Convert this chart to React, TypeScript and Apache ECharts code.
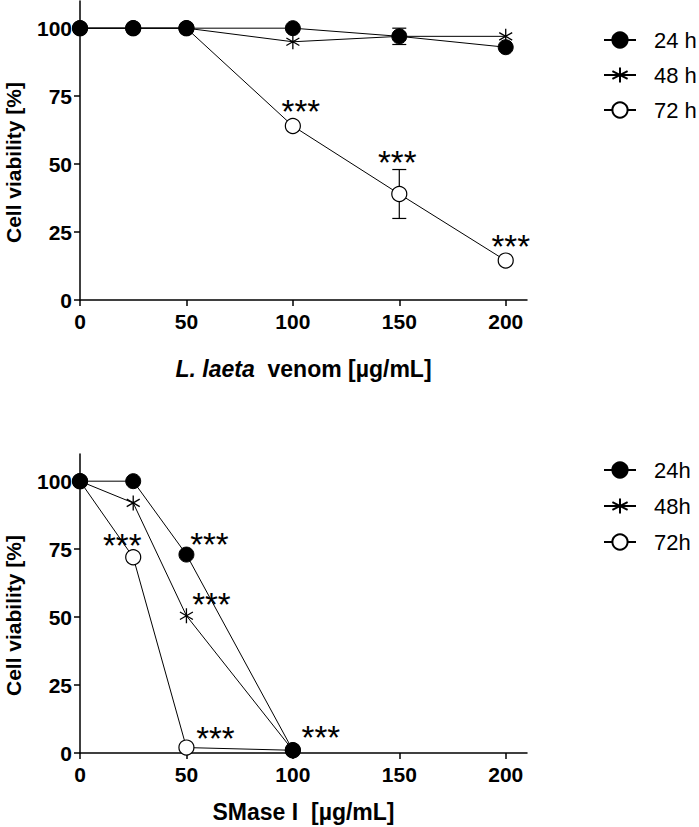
import React, { useEffect, useRef } from 'react';
import * as echarts from 'echarts';

// ---- Data ----
const topDoses = [0, 25, 50, 100, 150, 200];
const top24 = [100, 100, 100, 100, 97, 93];
const top48 = [100, 100, 100, 95, 97, 97];
const top72 = [100, 100, 100, 64, 39, 14.5];
const topErr24 = [0, 0, 0, 0, 3, 0];
const topErr72 = [0, 0, 0, 0, 9, 0];
const topSig = [[100, 64], [150, 39], [200, 14.5]];

const botDoses = [0, 25, 50, 100];
const bot24 = [100, 100, 73, 1];
const bot48 = [100, 92, 50.5, 1];
const bot72 = [100, 72, 2, 1];
const botSig = [[50, 73], [50, 50.5], [25, 72], [50, 2], [100, 1]];

const yTicks = [0, 25, 50, 75, 100];
const xTicks = [0, 50, 100, 150, 200];
const topNames = ['24 h', '48 h', '72 h'];
const botNames = ['24h', '48h', '72h'];

const FONT = '"Liberation Sans", Arial, Helvetica, sans-serif';
const STAR = 'path://M0,-1L0,1M-0.866,-0.5L0.866,0.5M-0.866,0.5L0.866,-0.5';

const markerFor = (k: number) => {
  if (k === 0) return { symbol: 'circle', symbolSize: 15, itemStyle: { color: '#000', borderColor: '#000', borderWidth: 1 } };
  if (k === 1) return { symbol: STAR, symbolSize: 15, symbolKeepAspect: true, itemStyle: { color: 'none', borderColor: '#000', borderWidth: 1.3 } };
  return { symbol: 'circle', symbolSize: 15, itemStyle: { color: '#fff', borderColor: '#000', borderWidth: 1.2 } };
};

function lineSeries(name: string, k: number, gi: number, xs: number[], ys: number[], z: number) {
  return {
    type: 'line', name, xAxisIndex: gi, yAxisIndex: gi, z,
    data: xs.map((x, i) => [x, ys[i]]),
    lineStyle: { color: '#000', width: 1 },
    showAllSymbol: true,
    ...markerFor(k),
  };
}

function errSeries(gi: number, xs: number[], ys: number[], es: number[]) {
  const data = xs.map((x, i) => [x, ys[i] - es[i], ys[i] + es[i]]).filter((_, i) => es[i] > 0);
  return {
    type: 'custom', xAxisIndex: gi, yAxisIndex: gi, z: 1, silent: true,
    data,
    renderItem: (_p: any, api: any) => {
      const x = api.value(0);
      const lo = api.coord([x, api.value(1)]);
      const hi = api.coord([x, api.value(2)]);
      const w = 7;
      const st = { stroke: '#000', lineWidth: 1.2 };
      return {
        type: 'group', children: [
          { type: 'line', shape: { x1: lo[0], y1: lo[1], x2: hi[0], y2: hi[1] }, style: st },
          { type: 'line', shape: { x1: lo[0] - w, y1: lo[1], x2: lo[0] + w, y2: lo[1] }, style: st },
          { type: 'line', shape: { x1: hi[0] - w, y1: hi[1], x2: hi[0] + w, y2: hi[1] }, style: st },
        ],
      };
    },
  };
}

function sigSeries(gi: number, pts: number[][], offsets: number[][]) {
  return {
    type: 'custom', xAxisIndex: gi, yAxisIndex: gi, z: 6, silent: true,
    data: pts,
    renderItem: (p: any, api: any) => {
      const c = api.coord([api.value(0), api.value(1)]);
      const o = offsets[p.dataIndex];
      return {
        type: 'text', x: c[0] + o[0], y: c[1] + o[1],
        style: { text: '***', fill: '#000', font: `33px ${FONT}`, align: 'center', verticalAlign: 'middle' },
      };
    },
  };
}

const axisCommon = { color: '#000', width: 1.5 };

function xAxis(gi: number, name: any, gap: number, rich?: any) {
  return {
    gridIndex: gi, type: 'value', min: 0, max: 210,
    axisLine: { show: true, onZero: false, lineStyle: axisCommon },
    axisTick: { show: true, length: 6, lineStyle: axisCommon, customValues: xTicks },
    axisLabel: { customValues: xTicks, fontSize: 21, fontWeight: 'bold', color: '#000', margin: 11, fontFamily: FONT },
    splitLine: { show: false },
    name, nameLocation: 'middle', nameGap: gap,
    nameTextStyle: { fontSize: 23, fontWeight: 'bold', color: '#000', fontFamily: FONT, rich },
  };
}

function yAxis(gi: number) {
  return {
    gridIndex: gi, type: 'value', min: 0, max: 110,
    axisLine: { show: true, onZero: false, lineStyle: axisCommon },
    axisTick: { show: true, length: 6, lineStyle: axisCommon, customValues: yTicks },
    axisLabel: { customValues: yTicks, fontSize: 21, fontWeight: 'bold', color: '#000', margin: 8, fontFamily: FONT },
    splitLine: { show: false },
    name: 'Cell viability [%]', nameLocation: 'middle', nameGap: 56,
    nameTextStyle: { fontSize: 21, fontWeight: 'bold', color: '#000', fontFamily: FONT, padding: [0, 24, 0, 0] },
  };
}

function legend(names: string[], top: number, gap: number) {
  return {
    orient: 'vertical', left: 603, top, padding: 0, itemWidth: 32, itemHeight: 19, itemGap: gap,
    selectedMode: false, data: names,
    textStyle: { fontSize: 22, fontFamily: FONT, color: '#000', padding: [0, 0, 0, 13] },
  };
}

export default function App() {
  const ref = useRef<HTMLDivElement>(null);
  useEffect(() => {
    const chart = echarts.init(ref.current!, null, { renderer: 'svg' });
    const option: any = {
      animation: false,
      backgroundColor: '#fff',
      textStyle: { fontFamily: FONT },
      grid: [
        { left: 80, top: 1, width: 447, height: 299, outerBoundsMode: 'none' },
        { left: 80, top: 454, width: 447, height: 299, outerBoundsMode: 'none' },
      ],
      xAxis: [
        xAxis(0, '{i|L. laeta}{n|  venom [µg/mL]}', 57, {
          i: { fontSize: 23, fontWeight: 'bold', fontStyle: 'italic', color: '#000', fontFamily: FONT },
          n: { fontSize: 23, fontWeight: 'bold', color: '#000', fontFamily: FONT },
        }),
        xAxis(1, 'SMase I  [µg/mL]', 47),
      ],
      yAxis: [yAxis(0), yAxis(1)],
      legend: [legend(topNames, 29, 13), legend(botNames, 459, 14)],
      series: [
        errSeries(0, topDoses, top24, topErr24),
        errSeries(0, topDoses, top72, topErr72),
        lineSeries(topNames[2], 2, 0, topDoses, top72, 2),
        lineSeries(topNames[1], 1, 0, topDoses, top48, 3),
        lineSeries(topNames[0], 0, 0, topDoses, top24, 4),
        sigSeries(0, topSig, [[8, -15], [-2, -31], [5, -14]]),
        lineSeries(botNames[2], 2, 1, botDoses, bot72, 2),
        lineSeries(botNames[1], 1, 1, botDoses, bot48, 3),
        lineSeries(botNames[0], 0, 1, botDoses, bot24, 4),
        sigSeries(1, botSig, [[23, -10], [25, -11], [-11, -12], [29, -9], [28, -13]]),
      ],
    };
    chart.setOption(option);
    return () => chart.dispose();
  }, []);
  return <div ref={ref} style={{ position: 'absolute', left: 0, top: 0, width: 699, height: 827, background: '#fff' }} />;
}
